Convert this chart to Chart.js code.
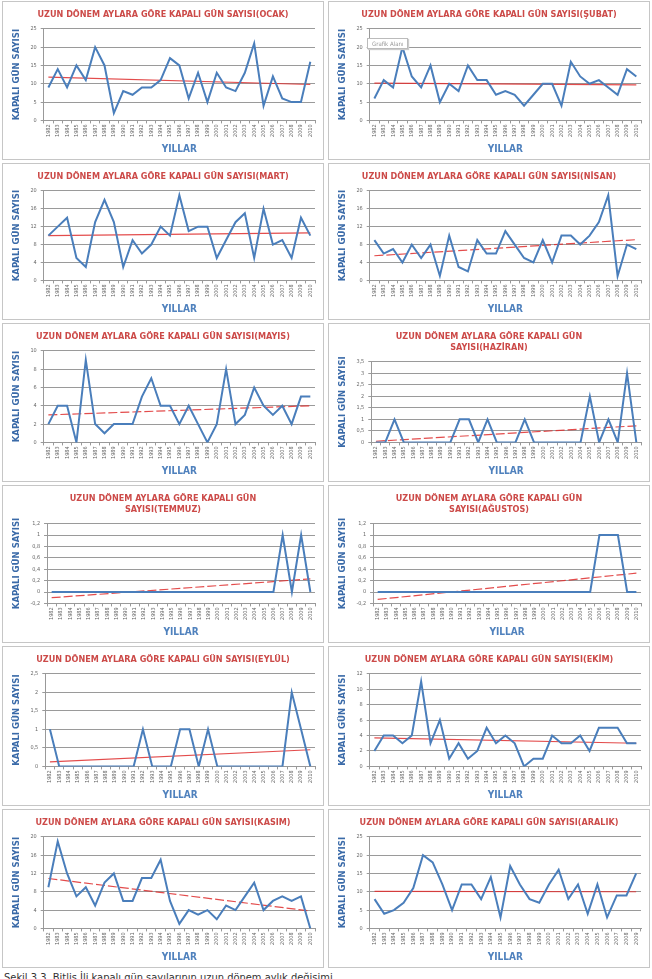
<!DOCTYPE html>
<html>
<head>
<meta charset="utf-8">
<script src="https://cdn.jsdelivr.net/npm/chart.js@4.4.1/dist/chart.umd.min.js"></script>
<style>
  body { margin: 0; background: #fff; width: 652px; height: 979px; position: relative; overflow: hidden; font-family: 'DejaVu Sans Condensed', sans-serif; }
  .panel { position: absolute; border: 1px solid #c6c6c6; background: #fff; box-sizing: border-box; }
  .tip { position: absolute; left: 38px; top: 36px; border: 1px solid #bbb; background: #fff; color: #999; font-size: 6px; padding: 1px 4px; box-shadow: 1px 1px 1px #ccc; }
  .caption { position: absolute; left: 4px; top: 971px; font-size: 11px; color: #333; white-space: nowrap; }
</style>
</head>
<body>
<div class="caption">Şekil 3.3. Bitlis İli kapalı gün sayılarının uzun dönem aylık değişimi</div>

<script>
const years = ["1982","1983","1984","1985","1986","1987","1988","1989","1990","1991","1992","1993","1994","1995","1996","1997","1998","1999","2000","2001","2002","2003","2004","2005","2006","2007","2008","2009","2010"];
const yearsAralik = years.slice(0, 28);

const ocak    = [9,14,9,15,11,20,15,2,8,7,9,9,11,17,15,6,13,5,13,9,8,13,21,4,12,6,5,5,16];
const subat   = [6,11,9,20,12,9,15,5,10,8,15,11,11,7,8,7,4,7,10,10,4,16,12,10,11,9,7,14,12];
const mart    = [10,12,14,5,3,13,18,13,3,9,6,8,12,10,19,11,12,12,5,9,13,15,5,16,8,9,5,14,10];
const nisan   = [9,6,7,4,8,5,8,1,10,3,2,9,6,6,11,8,5,4,9,4,10,10,8,10,13,19,1,8,7];
const mayis   = [2,4,4,0,9,2,1,2,2,2,5,7,4,4,2,4,2,0,2,8,2,3,6,4,3,4,2,5,5];
const haziran = [0,0,1,0,0,0,0,0,0,1,1,0,1,0,0,0,1,0,0,0,0,0,0,2,0,1,0,3,0];
const temmuz  = [0,0,0,0,0,0,0,0,0,0,0,0,0,0,0,0,0,0,0,0,0,0,0,0,0,1,0,1,0];
const agustos = [0,0,0,0,0,0,0,0,0,0,0,0,0,0,0,0,0,0,0,0,0,0,0,0,1,1,1,0,0];
const eylul   = [1,0,0,0,0,0,0,0,0,0,1,0,0,0,1,1,0,1,0,0,0,0,0,0,0,0,2,1,0];
const ekim    = [2,4,4,3,4,11,3,6,1,3,1,2,5,3,4,3,0,1,1,4,3,3,4,2,5,5,5,3,3];
const kasim   = [9,19,12,7,9,5,10,12,6,6,11,11,15,6,1,4,3,4,2,5,4,7,10,4,6,7,6,7,0];
const aralik  = [8,4,5,7,11,20,18,12,5,12,12,8,14,3,17,12,8,7,12,16,8,12,4,12,3,9,9,15];

// trend line, start and end values
const ocakTrend    = [11.8, 9.8];
const subatTrend   = [10.2, 9.7];
const martTrend    = [10.0, 10.6];
const nisanTrend   = [5.5, 9.1];
const mayisTrend   = [3.0, 4.0];
const haziranTrend = [0.05, 0.72];
const temmuzTrend  = [-0.1, 0.23];
const agustosTrend = [-0.13, 0.33];
const eylulTrend   = [0.12, 0.45];
const ekimTrend    = [3.7, 3.0];
const kasimTrend   = [10.9, 3.8];
const aralikTrend  = [10.1, 10.0];

// y axis: min, max, step
const ocakAxis    = [0, 25, 5];
const subatAxis   = [0, 25, 5];
const martAxis    = [0, 20, 2];
const nisanAxis   = [0, 20, 2];
const mayisAxis   = [0, 10, 1];
const haziranAxis = [0, 3.5, 0.5];
const temmuzAxis  = [-0.2, 1.2, 0.2];
const agustosAxis = [-0.2, 1.2, 0.2];
const eylulAxis   = [0, 2.5, 0.5];
const ekimAxis    = [0, 12, 2];
const kasimAxis   = [0, 20, 2];
const aralikAxis  = [0, 25, 5];

const T = "UZUN DÖNEM AYLARA GÖRE KAPALI GÜN SAYISI";
const charts = [
  { title: T + "(OCAK)",   labels: years, values: ocak,    trend: ocakTrend,    axis: ocakAxis,    dashed: false },
  { title: T + "(ŞUBAT)",  labels: years, values: subat,   trend: subatTrend,   axis: subatAxis,   dashed: false, tip: true },
  { title: T + "(MART)",   labels: years, values: mart,    trend: martTrend,    axis: martAxis,    dashed: false },
  { title: T + "(NİSAN)",  labels: years, values: nisan,   trend: nisanTrend,   axis: nisanAxis,   dashed: true },
  { title: T + "(MAYIS)",  labels: years, values: mayis,   trend: mayisTrend,   axis: mayisAxis,   dashed: true },
  { title: ["UZUN DÖNEM AYLARA GÖRE KAPALI GÜN", "SAYISI(HAZİRAN)"], labels: years, values: haziran, trend: haziranTrend, axis: haziranAxis, dashed: true },
  { title: ["UZUN DÖNEM AYLARA GÖRE KAPALI GÜN", "SAYISI(TEMMUZ)"],  labels: years, values: temmuz,  trend: temmuzTrend,  axis: temmuzAxis,  dashed: true },
  { title: ["UZUN DÖNEM AYLARA GÖRE KAPALI GÜN", "SAYISI(AĞUSTOS)"], labels: years, values: agustos, trend: agustosTrend, axis: agustosAxis, dashed: true },
  { title: T + "(EYLÜL)",  labels: years, values: eylul,   trend: eylulTrend,   axis: eylulAxis,   dashed: false },
  { title: T + "(EKİM)",   labels: years, values: ekim,    trend: ekimTrend,    axis: ekimAxis,    dashed: false },
  { title: T + "(KASIM)",  labels: years, values: kasim,   trend: kasimTrend,   axis: kasimAxis,   dashed: true },
  { title: T + "(ARALIK)", labels: yearsAralik, values: aralik, trend: aralikTrend, axis: aralikAxis, dashed: false },
];

const rowTops = [1, 163, 323, 485, 646, 809];
const rowHeights = [159, 157, 159, 158, 160, 159];
const fam = "'DejaVu Sans Condensed', sans-serif";

function fmt(v) {
  return (Math.round(v * 10) / 10).toString().replace(".", ",");
}

charts.forEach((c, i) => {
  const row = Math.floor(i / 2), col = i % 2;
  const div = document.createElement("div");
  div.className = "panel";
  div.style.left = (col ? 328 : 2) + "px";
  div.style.top = rowTops[row] + "px";
  div.style.width = "322px";
  div.style.height = rowHeights[row] + "px";
  const cv = document.createElement("canvas");
  div.appendChild(cv);
  document.body.appendChild(div);
  if (c.tip) {
    const t = document.createElement("div");
    t.className = "tip";
    t.textContent = "Grafik Alanı";
    div.appendChild(t);
  }
  const n = c.labels.length;
  new Chart(cv, {
    type: "line",
    data: {
      labels: c.labels,
      datasets: [
        {
          data: c.values,
          borderColor: "#4a7ebb",
          borderWidth: 2,
          pointRadius: 0,
          tension: 0,
        },
        {
          data: [{ x: c.labels[0], y: c.trend[0] }, { x: c.labels[n - 1], y: c.trend[1] }],
          borderColor: "rgba(222,45,45,0.85)",
          borderWidth: 1.2,
          borderDash: c.dashed ? [9, 3] : [],
          pointRadius: 0,
        },
      ],
    },
    options: {
      responsive: true,
      maintainAspectRatio: false,
      animation: false,
      layout: { padding: { left: 8, right: 8, top: 0, bottom: 4 } },
      plugins: {
        legend: { display: false },
        tooltip: { enabled: false },
        title: {
          display: true,
          text: c.title,
          color: "#cc4a48",
          font: { family: fam, size: 9, weight: "bold" },
          padding: { top: 7, bottom: 9 },
        },
      },
      scales: {
        x: {
          offset: true,
          grid: { drawOnChartArea: false, drawTicks: true, tickLength: 3, color: "#999", offset: true },
          border: { color: "#999" },
          ticks: { autoSkip: false, maxRotation: 90, minRotation: 90, color: "#666", padding: 1, font: { family: fam, size: 5.5 } },
          title: { display: true, text: "YILLAR", color: "#4f81bd", padding: { top: 5, bottom: 0 }, font: { family: fam, size: 10, weight: "bold" } },
        },
        y: {
          min: c.axis[0],
          max: c.axis[1],
          ticks: { stepSize: c.axis[2], color: "#666", padding: 4, font: { family: fam, size: 5.5 }, callback: fmt },
          grid: { color: "#9a9a9a", tickLength: 3 },
          border: { color: "#999" },
          title: { display: true, text: "KAPALI GÜN SAYISI", color: "#3a6aa8", padding: { top: 0, bottom: 4 }, font: { family: fam, size: 9.5, weight: "bold" } },
        },
      },
    },
  });
});
</script>
</body>
</html>
